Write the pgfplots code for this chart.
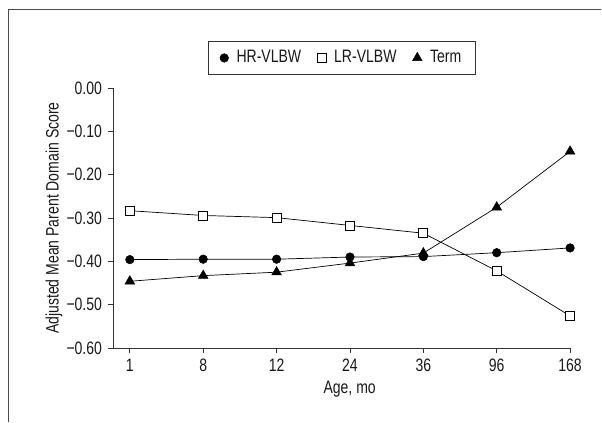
\documentclass[border=0pt]{standalone}
\usepackage{fontspec}
\setmainfont{Liberation Sans}[FakeStretch=0.78]
\usepackage{pgfplots}
\pgfplotsset{compat=1.18}
\begin{document}
\fontsize{18bp}{21bp}\selectfont
\begin{tikzpicture}[x=1bp,y=1bp,font=\fontsize{18bp}{21bp}\selectfont]
\path (0,0) rectangle (602,422);
\draw[line width=1.3bp, black!70] (8.5,0) -- (8.5,412.5) -- (602,412.5);
\begin{axis}[
  at={(113.3bp,73.7bp)}, anchor=south west, scale only axis,
  width=457.4bp, height=260bp,
  xmin=-0.227, xmax=6, ymin=-0.6, ymax=0,
  axis lines=left,
  axis line style={-, line width=0.8bp, black!80},
  xtick={0,1,2,3,4,5,6}, xticklabels={1,8,12,24,36,96,168},
  ytick={-0.6,-0.5,-0.4,-0.3,-0.2,-0.1,0},
  yticklabels={−0.60,−0.50,−0.40,−0.30,−0.20,−0.10,0.00},
  tick align=outside, major tick length=5bp,
  tick style={line width=0.8bp, black!80},
  tick label style={text=black!90},
  xlabel={Age, mo}, ylabel={Adjusted Mean Parent Domain Score},
  xlabel style={at={(axis description cs:0.5175,-0.160)}, anchor=center, text=black!90},
  ylabel style={at={(axis description cs:-0.1297,0.5)}, anchor=center, text=black!90},
  clip=false,
  legend columns=3,
  legend style={at={(axis description cs:0.5,1.1165)}, anchor=center,
    draw=black!80, line width=0.8bp, text=black!90,
    /tikz/every odd column/.append style={column sep=6bp},
    /tikz/every even column/.append style={column sep=14bp},
    inner xsep=12bp, inner ysep=7bp},
  legend image code/.code={\draw[#1] plot[only marks] coordinates {(0.15cm,0cm)};},
]
\addplot[black, line width=0.7bp, mark=*, mark size=4.3bp, mark options={fill=black, line width=0.5bp}]
  coordinates {(0,-0.396) (1,-0.395) (2,-0.395) (3,-0.390) (4,-0.389) (5,-0.380) (6,-0.369)};
\addlegendentry{HR-VLBW}
\addplot[black, line width=0.7bp, mark=square*, mark size=4.5bp, mark options={fill=white, line width=0.8bp}]
  coordinates {(0,-0.283) (1,-0.294) (2,-0.299) (3,-0.317) (4,-0.335) (5,-0.422) (6,-0.526)};
\addlegendentry{LR-VLBW}
\addplot[black, line width=0.7bp, mark=triangle*, mark size=5.6bp, mark options={fill=black, line width=0.5bp}]
  coordinates {(0,-0.446) (1,-0.433) (2,-0.425) (3,-0.404) (4,-0.381) (5,-0.275) (6,-0.146)};
\addlegendentry{Term}
\end{axis}
\end{tikzpicture}
\end{document}
